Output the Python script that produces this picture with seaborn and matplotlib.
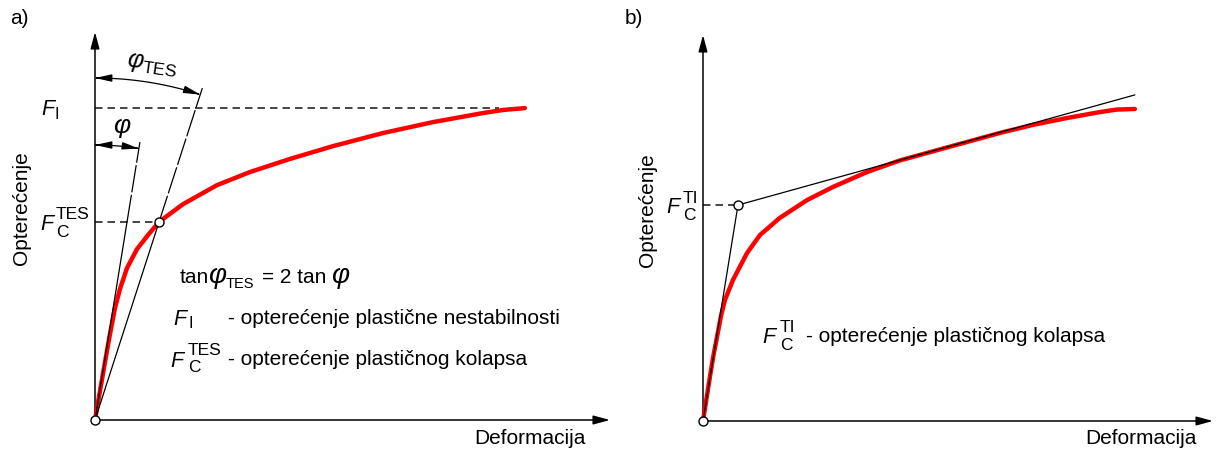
import numpy as np
import matplotlib
matplotlib.use("Agg")
import matplotlib.pyplot as plt
from matplotlib.patches import FancyArrowPatch
from matplotlib.path import Path
import seaborn as sns

# ---------------- data (normalised units: deformation, load; curve end load = 1) ----------------
# panel a) - TES method
a_def = [0.0, 0.0116, 0.0233, 0.0349, 0.0465, 0.0581, 0.0744, 0.0977, 0.1233, 0.149,
         0.2047, 0.2837, 0.3605, 0.4535, 0.5535, 0.6698, 0.786, 0.902, 0.949, 1.0]
a_load = [0.0, 0.093, 0.186, 0.276, 0.359, 0.420, 0.487, 0.548, 0.593, 0.635,
          0.692, 0.753, 0.795, 0.837, 0.878, 0.920, 0.955, 0.984, 0.994, 1.0]
a_FI = 1.0                 # plastic instability load
a_FC = (0.149, 0.635)      # F_C^TES point
a_tan_top = 0.891          # load where the phi line ends
a_sec_top = 1.064          # load where the phi_TES line ends
a_lim = (1.198, 1.244)

# panel b) - TI method
b_def = [0.0, 0.0116, 0.0231, 0.0324, 0.0417, 0.0509, 0.0694, 0.1019, 0.1319, 0.178,
         0.241, 0.301, 0.380, 0.456, 0.532, 0.611, 0.6875, 0.764, 0.843, 0.919, 0.958, 1.0]
b_load = [0.0, 0.103, 0.202, 0.269, 0.337, 0.388, 0.452, 0.538, 0.596, 0.651,
          0.708, 0.750, 0.798, 0.835, 0.864, 0.894, 0.923, 0.949, 0.971, 0.990, 0.998, 1.0]
b_FC = (0.081, 0.692)      # F_C^TI point
b_tan_end = (1.0, 1.045)   # end of the tangent line
b_lim = (1.181, 1.237)

# text
ylabel = "Opterećenje"
xlabel = "Deformacija"
legend_a1 = "- opterećenje plastične nestabilnosti"
legend_a2 = "- opterećenje plastičnog kolapsa"
legend_b = "- opterećenje plastičnog kolapsa"

# ---------------- style ----------------
sns.set_theme(style="white")
plt.rcParams['font.family'] = ['Liberation Sans', 'DejaVu Sans']
plt.rcParams['text.color'] = 'black'
plt.rcParams['mathtext.fontset'] = 'custom'
plt.rcParams['mathtext.rm'] = 'Liberation Sans'
plt.rcParams['mathtext.it'] = 'Liberation Sans:italic'
plt.rcParams['mathtext.bf'] = 'Liberation Sans:bold'

W, H = 1220, 450
fig = plt.figure(figsize=(W / 100, H / 100), dpi=100)
fig.patch.set_facecolor("white")


def P(x, y):
    return (x / W, 1 - y / H)


axA = fig.add_axes([95 / W, (H - 420) / H, 515 / W, 388 / H])
axB = fig.add_axes([703 / W, (H - 421) / H, 510 / W, 386 / H])
for ax, lim in ((axA, a_lim), (axB, b_lim)):
    ax.set_xlim(0, lim[0])
    ax.set_ylim(0, lim[1])
    ax.set_axis_off()

FS = 15
RED = "#ff0000"
DASH_C = "#262626"
DASH = (0, (4.5, 3.0))


def axes_arrows(ax, lim):
    style = "-|>,head_length=1.0,head_width=0.27"
    for xy in ((lim[0], 0), (0, lim[1])):
        ax.annotate("", xy=xy, xytext=(0, 0),
                    arrowprops=dict(arrowstyle=style, color="black", lw=1.1,
                                    shrinkA=0, shrinkB=0, mutation_scale=10),
                    annotation_clip=False)


def marker(ax, x, y):
    ax.plot([x], [y], "o", ms=6.5, mfc="white", mec="black", mew=1.0,
            clip_on=False, zorder=6)


def arc(ax, r_px, x_end, y_end):
    o = ax.transData.transform((0, 0))
    d = ax.transData.transform((x_end, y_end)) - o
    th = np.arctan2(d[0], d[1])
    t = np.linspace(0, th, 80)
    pts = np.column_stack([o[0] + r_px * np.sin(t), o[1] + r_px * np.cos(t)])
    dp = ax.transData.inverted().transform(pts)
    p = FancyArrowPatch(path=Path(dp), arrowstyle="<|-|>,head_length=1.0,head_width=0.22",
                        mutation_scale=10, color="black", lw=0.9, clip_on=False, zorder=5)
    ax.add_patch(p)


def fsym(x, y, sup=None, sub=None, dx=16, up=11, down=7, fs=15.5, sfs=12.5):
    """Italic F with stacked superscript / subscript (pixel layout positions)."""
    fig.text(*P(x, y), "F", fontsize=fs, fontstyle="italic", ha="left", va="baseline")
    if sup:
        fig.text(*P(x + dx, y - up), sup, fontsize=sfs, ha="left", va="baseline")
    if sub:
        fig.text(*P(x + dx, y + down), sub, fontsize=sfs, ha="left", va="baseline")


# ---------------- panel a ----------------
axes_arrows(axA, a_lim)
sns.lineplot(x=a_def, y=a_load, ax=axA, color=RED, lw=3.2, sort=False, estimator=None,
             zorder=3, solid_capstyle="round", solid_joinstyle="round", clip_on=False)
axA.plot([0, 0.94], [a_FI, a_FI], color=DASH_C, lw=1.2, ls=DASH, zorder=2)
axA.plot([0, a_FC[0]], [a_FC[1], a_FC[1]], color=DASH_C, lw=1.2, ls=DASH, zorder=2)
k_sec = a_FC[1] / a_FC[0]
k_tan = 2 * k_sec
for k, top in ((k_tan, a_tan_top), (k_sec, a_sec_top)):
    axA.plot([0, a_FC[1] / k], [0, a_FC[1]], color="black", lw=0.9, zorder=4)
    axA.plot([a_FC[1] / k, top / k], [a_FC[1], top], color="black", lw=0.9,
             ls=(0, (22, 2)), zorder=4)
arc(axA, 342, a_sec_top / k_sec, a_sec_top)
arc(axA, 275, a_tan_top / k_tan, a_tan_top)
marker(axA, 0, 0)
marker(axA, *a_FC)

# ---------------- panel b ----------------
axes_arrows(axB, b_lim)
sns.lineplot(x=b_def, y=b_load, ax=axB, color=RED, lw=3.2, sort=False, estimator=None,
             zorder=3, solid_capstyle="round", solid_joinstyle="round", clip_on=False)
axB.plot([0, b_FC[0]], [b_FC[1], b_FC[1]], color=DASH_C, lw=1.2, ls=DASH, zorder=2)
axB.plot([0, b_FC[0], b_tan_end[0]], [0, b_FC[1], b_tan_end[1]], color="black", lw=0.9, zorder=4)
marker(axB, 0, 0)
marker(axB, *b_FC)

# ---------------- texts ----------------
fig.text(*P(10, 19), "a)", fontsize=FS, ha="left", va="center")
fig.text(*P(625, 19), "b)", fontsize=FS, ha="left", va="center")
fig.text(*P(22, 208), ylabel, fontsize=FS, rotation=90, ha="center", va="center")
fig.text(*P(648, 210), ylabel, fontsize=FS, rotation=90, ha="center", va="center")
fig.text(*P(586, 438), xlabel, fontsize=FS, ha="right", va="center")
fig.text(*P(1197, 438), xlabel, fontsize=FS, ha="right", va="center")

# axis labels of panel a
fsym(41, 115, sub="I", dx=14, down=4, sfs=11.5)
fsym(40, 230, sup="TES", sub="C")
fig.text(*P(152, 65), r"$\varphi_{\mathrm{TES}}$", fontsize=18, ha="center", va="center",
         rotation=-8)
fig.text(*P(122, 128), r"$\varphi$", fontsize=19, ha="center", va="center")

# equation  tan phi_TES = 2 tan phi
fig.text(*P(180, 283), "tan", fontsize=FS, ha="left", va="baseline")
fig.text(*P(208, 283), "φ", fontsize=20, fontstyle="italic", ha="left", va="baseline")
fig.text(*P(226, 288), "TES", fontsize=10.5, ha="left", va="baseline")
fig.text(*P(262, 283), "= 2 tan", fontsize=FS, ha="left", va="baseline")
fig.text(*P(331, 283), "φ", fontsize=20, fontstyle="italic", ha="left", va="baseline")

# legend of panel a
fsym(173, 325, sub="I", dx=15, down=3, sfs=11.5)
fig.text(*P(228, 324), legend_a1, fontsize=FS, ha="left", va="baseline")
fsym(170, 367, sup="TES", sub="C", dx=18, up=12, down=5)
fig.text(*P(228, 365), legend_a2, fontsize=FS, ha="left", va="baseline")

# panel b labels
fsym(666, 213, sup="TI", sub="C", dx=17, up=10, down=7)
fsym(762, 343, sup="TI", sub="C", dx=18, up=11, down=7)
fig.text(*P(806, 342), legend_b, fontsize=FS, ha="left", va="baseline")

fig.savefig("out.png", dpi=100, facecolor="white")
